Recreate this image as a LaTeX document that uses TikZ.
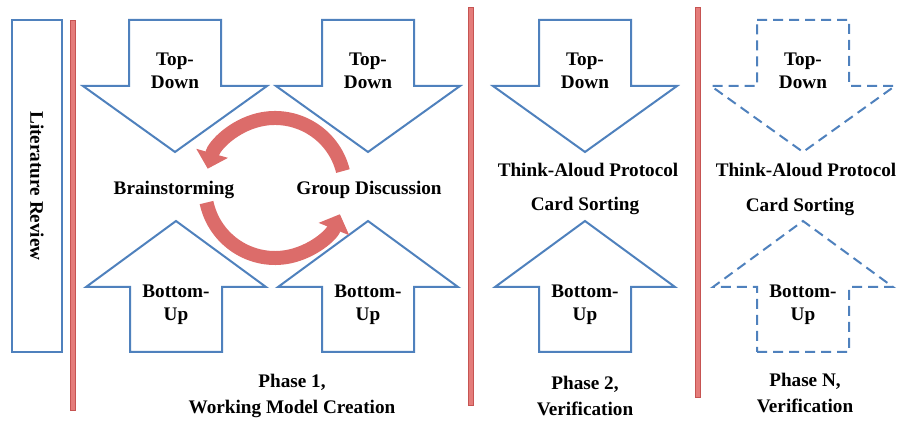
\documentclass[tikz,border=0pt]{standalone}
\usepackage{fontspec}
\setmainfont{Liberation Serif}[BoldFont={Liberation Serif Bold}]
\usepackage{xcolor}
\usepackage{tikz}
\usetikzlibrary{positioning}
\usetikzlibrary{arrows.meta}

\definecolor{boxblue}{RGB}{79,129,189}
\definecolor{barred}{RGB}{228,124,122}
\definecolor{baredge}{RGB}{198,84,82}
\definecolor{cycred}{RGB}{220,108,106}

% block arrows: #1 = centre x, #2 = style
\newcommand{\downblock}[2]{%
  \draw[#2] (#1-46,-20) -- (#1+46,-20) -- (#1+46,-86) -- (#1+92,-86)
    -- (#1,-152) -- (#1-92,-86) -- (#1-46,-86) -- cycle;}
\newcommand{\upblock}[2]{%
  \draw[#2] (#1-46,-352) -- (#1+46,-352) -- (#1+46,-287) -- (#1+90,-287)
    -- (#1,-221) -- (#1-90,-287) -- (#1-46,-287) -- cycle;}

\begin{document}
\begin{tikzpicture}[x=0.5pt,y=0.5pt,
  font=\rmfamily\bfseries\fontsize{9.6}{11.5}\selectfont,
  block/.style={draw=boxblue,line width=1pt,fill=white,line join=miter},
  dashblock/.style={block,dash pattern=on 5pt off 3pt},
  phasebar/.style={draw=baredge,line width=0.4pt,fill=barred},
  cyclearrow/.style={draw=cycred,line width=7pt,-{Triangle[length=8pt,width=16pt]}},
  lbl/.style={align=center,inner sep=1pt},
  phaselbl/.style={align=center,inner sep=1pt,font=\rmfamily\bfseries\fontsize{9.6}{13}\selectfont}]

\useasboundingbox (0,0) rectangle (901,-421);

% literature review
\node[block,rotate=-90,minimum width=166pt,minimum height=25pt,inner sep=0pt] (lit) at (37,-186) {Literature Review};

% phase separators
\draw[phasebar] (70,-20) rectangle (75,-410);
\draw[phasebar] (468,-7) rectangle (473,-405);
\draw[phasebar] (695,-7) rectangle (700,-397);

% top-down / bottom-up arrows
\downblock{175}{block}
\downblock{368}{block}
\downblock{585}{block}
\downblock{803}{dashblock}
\upblock{176}{block}
\upblock{368}{block}
\upblock{585}{block}
\upblock{803}{dashblock}

\node[lbl] (td1) at (175,-71) {Top-\\Down};
\node[lbl] (td2) at (368,-71) {Top-\\Down};
\node[lbl] (td3) at (585,-71) {Top-\\Down};
\node[lbl] (tdn) at (803,-71) {Top-\\Down};
\node[lbl] (bu1) at (176,-305) {Bottom-\\Up};
\node[lbl] (bu2) at (368,-305) {Bottom-\\Up};
\node[lbl] (bu3) at (585,-305) {Bottom-\\Up};
\node[lbl] (bun) at (803,-305) {Bottom-\\Up};

% phase 1 methods
\node[lbl] (brain) at (174,-190) {Brainstorming};
\node[lbl] (group) at (369,-190) {Group Discussion};
\coordinate (cyc) at (275,-188);
\draw[cyclearrow] (cyc) ++(14:70) arc[start angle=14, end angle=164, radius=70];
\draw[cyclearrow] (cyc) ++(192:70) arc[start angle=192, end angle=338, radius=70];

% phase 2 and N methods
\node[lbl] (think2) at (588,-170) {Think-Aloud Protocol};
\node[lbl] (card2) at (585,-206) {Card Sorting};
\node[lbl] (thinkn) at (806,-170) {Think-Aloud Protocol};
\node[lbl] (cardn) at (800,-207) {Card Sorting};

% phase captions
\node[phaselbl] (ph1) at (292,-396) {Phase 1,\\Working Model Creation};
\node[phaselbl] (ph2) at (585,-396) {Phase 2,\\Verification};
\node[phaselbl] (phn) at (805,-393) {Phase N,\\Verification};

\end{tikzpicture}
\end{document}
